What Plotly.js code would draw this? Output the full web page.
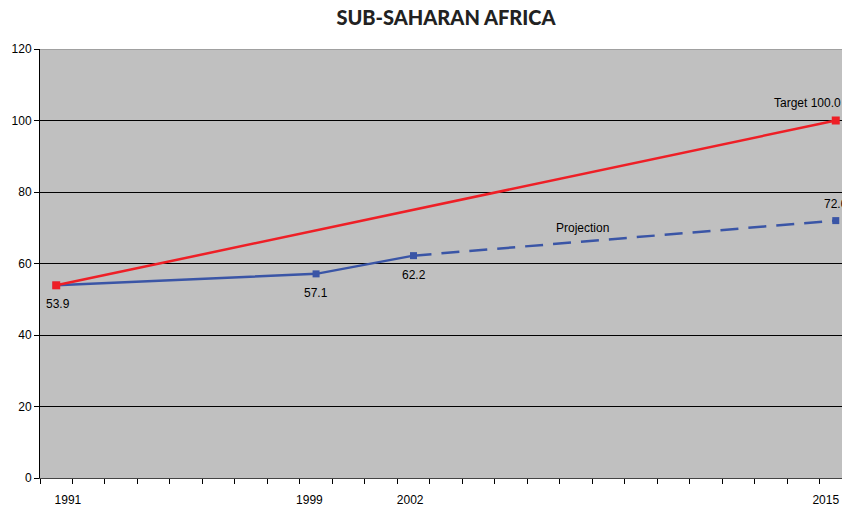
<!DOCTYPE html>
<html>
<head>
<meta charset="utf-8">
<script src="https://cdn.plot.ly/plotly-3.0.1.min.js"></script>
<style>
html, body { margin: 0; padding: 0; overflow: hidden; background: #fff; }
#chart { width: 860px; height: 506px; }
</style>
</head>
<body>
<div id="chart"></div>
<script>
// data
var actualYears = [1991, 1999, 2002];
var actualValues = [53.9, 57.1, 62.2];
var projYears = [2002, 2015];
var projValues = [62.2, 72.0];
var targetYears = [1991, 2015];
var targetValues = [53.9, 100.0];
var labelYears = [1991, 1999, 2002, 2015];

var BLUE = '#3a55a6';
var RED = '#ee1f26';
var NB = '\u00a0';

var traceActual = {
    x: actualYears,
    y: actualValues,
    type: 'scatter',
    mode: 'lines+markers',
    line: { color: BLUE, width: 2.5 },
    marker: { color: BLUE, symbol: 'square', size: 7 },
    cliponaxis: false,
    hoverinfo: 'x+y'
};
var traceProj = {
    x: projYears,
    y: projValues,
    type: 'scatter',
    mode: 'lines+markers',
    line: { color: BLUE, width: 2.5, dash: '18px,10px' },
    marker: { color: BLUE, symbol: 'square', size: 7, opacity: [0, 1] },
    cliponaxis: false,
    hoverinfo: 'x+y'
};
var traceTarget = {
    x: targetYears,
    y: targetValues,
    type: 'scatter',
    mode: 'lines+markers',
    line: { color: RED, width: 2.5 },
    marker: { color: RED, symbol: 'square', size: 8 },
    cliponaxis: false,
    hoverinfo: 'x+y'
};

// value labels: below the actual points, above the projected end point
var labelFont = { family: 'Liberation Sans, Arial', size: 12, color: '#000' };
var annotations = actualYears.map((yr, i) => ({
    x: yr, y: actualValues[i], xref: 'x', yref: 'y',
    text: actualValues[i].toFixed(1), showarrow: false,
    yshift: -19, xshift: i === 0 ? 2 : 0, font: labelFont
}));
annotations.push({
    x: projYears[1], y: projValues[1], xref: 'x', yref: 'y',
    text: projValues[1].toFixed(1), showarrow: false,
    yshift: 17, font: labelFont
});
annotations.push({
    x: targetYears[1], y: targetValues[1], xref: 'x', yref: 'y',
    text: 'Target ' + targetValues[1].toFixed(1), showarrow: false,
    xanchor: 'left', xshift: -64, yshift: 18, font: labelFont
});
annotations.push({
    x: 2007.2, y: 70, xref: 'x', yref: 'y',
    text: 'Projection', showarrow: false, font: labelFont
});

// tick labels in the source sit a little off their categories
var tickText = [NB.repeat(7) + '1991', '1999' + NB.repeat(4), '2002' + NB.repeat(2), '2015' + NB.repeat(6)];

var layout = {
    width: 860,
    height: 506,
    margin: { l: 40, r: 8, t: 49, b: 28 },
    paper_bgcolor: '#ffffff',
    plot_bgcolor: '#c0c0c0',
    showlegend: false,
    font: { family: 'Liberation Sans, Arial', size: 12, color: '#000' },
    title: {
        text: 'SUB-SAHARAN AFRICA',
        x: 0.5, xref: 'paper', xanchor: 'center',
        y: 0.978, yref: 'container',
        font: { family: 'Lato', size: 20, weight: 900, color: '#222' }
    },
    xaxis: {
        range: [1990.5, 2015.5],
        tickmode: 'array',
        tickvals: labelYears,
        ticktext: tickText,
        ticks: '',
        ticklabelstandoff: 11,
        showgrid: false,
        zeroline: false,
        showline: true,
        linecolor: '#444',
        linewidth: 1,
        minor: { ticks: 'outside', tickmode: 'linear', tick0: 1990.5, dtick: 1, ticklen: 5, tickcolor: '#000', showgrid: false },
        tickfont: { size: 12 }
    },
    yaxis: {
        range: [0, 120],
        dtick: 20,
        ticks: 'outside',
        ticklen: 5,
        tickcolor: '#000',
        showgrid: true,
        gridcolor: '#000',
        gridwidth: 1,
        zeroline: false,
        showline: true,
        linecolor: '#000',
        linewidth: 1,
        tickfont: { size: 12 }
    },
    shapes: [{
        type: 'line', xref: 'paper', yref: 'y',
        x0: 0, x1: 1, y0: 120, y1: 120,
        line: { color: '#808080', width: 1 }
    }],
    annotations: annotations
};

Plotly.newPlot('chart', [traceActual, traceProj, traceTarget], layout, { displayModeBar: false, staticPlot: true });
</script>
</body>
</html>
